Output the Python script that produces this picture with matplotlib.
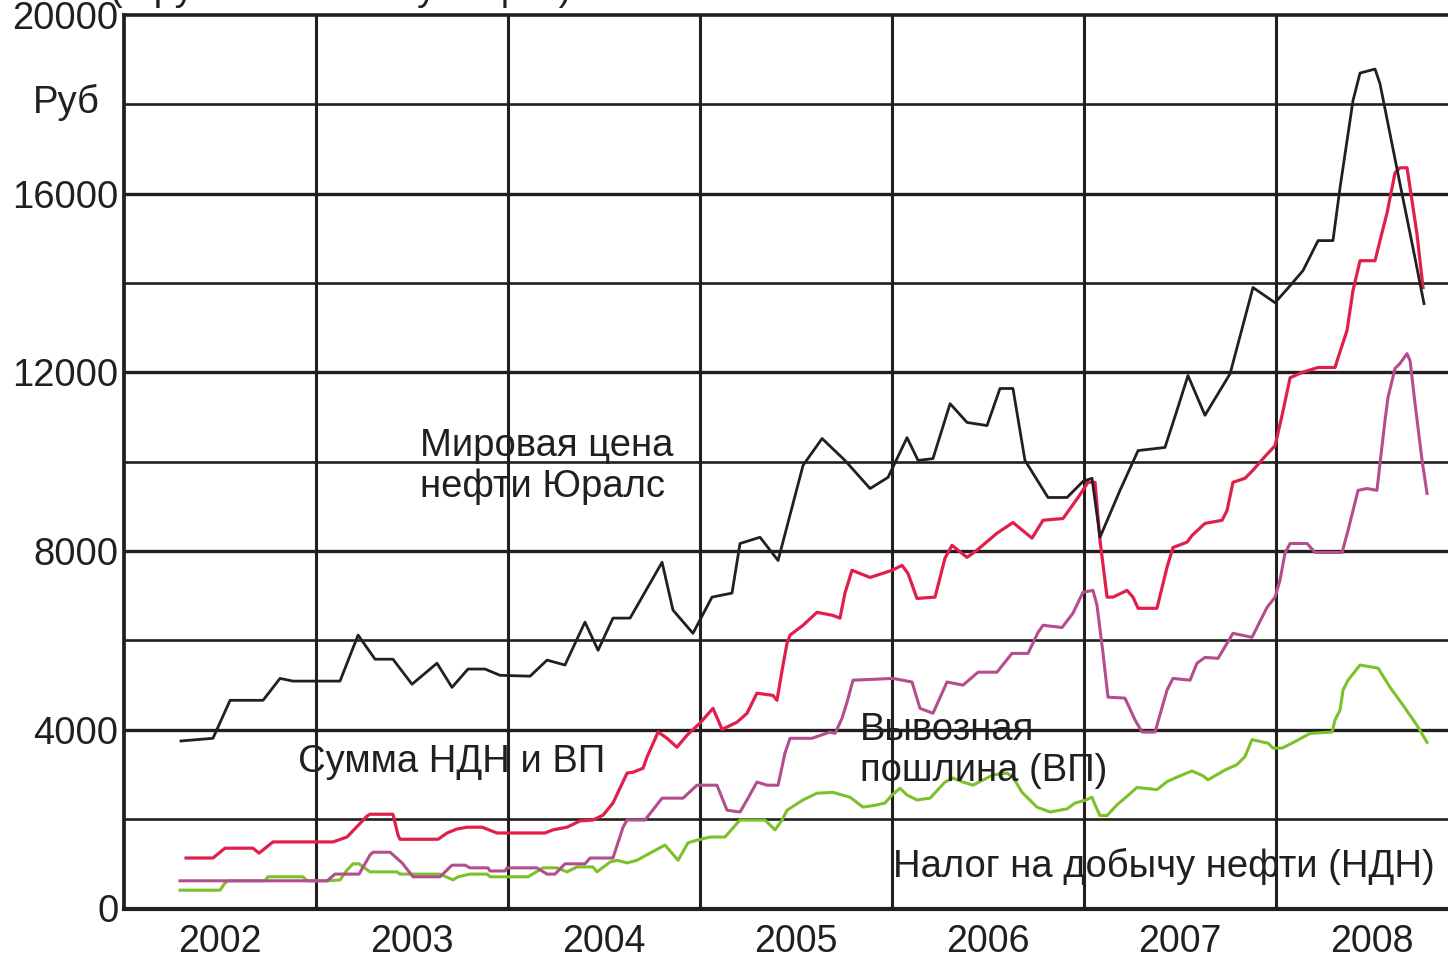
import matplotlib.pyplot as plt

plt.rcParams['font.family'] = ['Liberation Sans', 'DejaVu Sans']

# months counted from Jan 2002, values in rubles per tonne
urals_m = [3.56, 5.56, 6.63, 8.69, 9.75, 10.56, 13.5, 14.63, 15.69, 16.81,
           18.0, 19.56, 20.5, 21.5, 22.56, 23.5, 25.38, 26.44, 27.56, 28.81,
           29.63, 30.56, 31.63, 33.63, 34.31, 35.56, 36.75, 38.0, 38.5, 39.75,
           40.88, 42.44, 43.63, 45.06, 46.63, 47.75, 48.94, 49.63, 50.56, 51.63,
           52.69, 53.94, 54.75, 55.56, 56.31, 57.75, 58.94, 59.94, 60.5, 61.0,
           62.25, 63.38, 65.06, 65.81, 66.5, 67.56, 69.13, 70.56, 71.94, 72.88,
           73.69, 74.63, 75.56, 76.0, 76.81, 77.25, 78.19, 78.5, 79.75, 80.56,
           81.25]
urals_v = [3750, 3810, 4660, 4660, 5150, 5090, 5090, 6120, 5580, 5580,
           5020, 5490, 4950, 5360, 5360, 5220, 5200, 5560, 5450, 6410,
           5780, 6500, 6500, 7750, 6680, 6160, 6970, 7060, 8170, 8310,
           7790, 9920, 10520, 10030, 9400, 9650, 10540, 10030, 10070, 11300,
           10880, 10810, 11640, 11640, 10030, 9200, 9200, 9560, 9630, 8310,
           9360, 10250, 10320, 11150, 11930, 11040, 11970, 13900, 13560, 13940,
           14280, 14950, 14950, 16130, 18080, 18700, 18790, 18460, 16220, 14790,
           13540]

sum_m = [3.88, 5.56, 6.31, 8.06, 8.44, 9.31, 13.06, 13.94, 15.19, 15.38,
         16.81, 17.13, 17.25, 19.63, 20.19, 20.81, 21.44, 22.38, 23.31, 26.31,
         26.81, 27.69, 28.5, 29.31, 29.94, 30.56, 31.44, 31.81, 32.44, 32.69,
         33.38, 33.94, 34.56, 35.19, 36.0, 36.81, 37.38, 38.31, 38.94, 39.56,
         40.56, 40.81, 41.13, 41.44, 41.63, 42.44, 43.31, 44.31, 44.75, 45.06,
         45.5, 46.63, 48.0, 48.63, 49.0, 49.56, 50.69, 51.31, 51.75, 52.69,
         53.31, 54.56, 55.56, 56.75, 57.44, 58.69, 59.63, 60.25, 60.69, 61.0,
         61.44, 61.81, 62.69, 63.06, 63.38, 64.56, 65.19, 65.56, 66.44, 66.75,
         67.56, 68.63, 68.94, 69.31, 70.06, 70.56, 71.19, 71.94, 72.38, 72.88,
         73.63, 74.63, 75.69, 75.88, 76.44, 76.81, 77.25, 78.19, 78.5, 78.94,
         79.25, 79.44, 79.75, 80.19, 80.38, 80.81, 81.19]
sum_v = [1130, 1130, 1350, 1350, 1240, 1490, 1490, 1600, 2070, 2110,
         2110, 1640, 1550, 1550, 1690, 1780, 1820, 1820, 1690, 1690,
         1760, 1820, 1960, 1980, 2090, 2360, 3030, 3050, 3140, 3390,
         3950, 3810, 3610, 3880, 4150, 4480, 4010, 4170, 4370, 4820,
         4770, 4660, 5330, 5940, 6120, 6340, 6630, 6560, 6500, 7060,
         7570, 7410, 7570, 7680, 7500, 6940, 6970, 7840, 8130, 7860,
         8020, 8400, 8640, 8290, 8690, 8730, 9200, 9540, 9540, 8240,
         6970, 6970, 7120, 6970, 6720, 6720, 7640, 8080, 8200, 8350,
         8620, 8690, 8910, 9540, 9630, 9810, 10070, 10360, 11040, 11880,
         12000, 12110, 12110, 12330, 12940, 13830, 14500, 14500, 14950, 15570,
         16130, 16470, 16580, 16580, 16130, 15100, 13900]

duty_m = [3.5, 12.69, 13.19, 14.69, 15.38, 15.56, 16.63, 17.38, 18.06, 19.75,
          20.5, 21.31, 21.63, 22.75, 22.88, 23.81, 23.94, 25.81, 26.44, 26.94,
          27.56, 28.81, 29.13, 30.56, 31.19, 31.44, 32.56, 33.63, 34.94, 35.81,
          37.06, 37.69, 38.5, 38.94, 39.56, 40.19, 40.88, 41.31, 41.63, 43.0,
          44.13, 44.44, 44.88, 45.19, 45.56, 48.06, 49.25, 49.75, 50.56, 51.44,
          52.44, 53.38, 54.56, 55.5, 56.5, 57.13, 57.44, 58.63, 59.31, 59.94,
          60.56, 60.81, 61.19, 61.5, 62.56, 63.19, 63.63, 64.44, 65.19, 65.56,
          66.63, 67.06, 67.56, 68.38, 69.31, 70.5, 71.44, 71.94, 72.25, 72.56,
          72.88, 73.94, 74.44, 76.13, 76.5, 77.13, 77.69, 78.31, 78.5, 78.81,
          79.0, 79.44, 79.75, 80.19, 80.38, 80.69, 81.13, 81.44]
duty_v = [620, 620, 770, 770, 1200, 1260, 1260, 1020, 710, 710,
          970, 970, 910, 910, 840, 840, 910, 910, 770, 770,
          1000, 1000, 1130, 1130, 1820, 1980, 1980, 2470, 2470, 2760,
          2760, 2200, 2160, 2430, 2830, 2760, 2760, 3480, 3810, 3810,
          3950, 3920, 4260, 4620, 5110, 5150, 5070, 4480, 4370, 5070,
          5000, 5290, 5290, 5710, 5710, 6180, 6340, 6290, 6610, 7080,
          7120, 6790, 5710, 4730, 4710, 4220, 3950, 3950, 4890, 5150,
          5110, 5490, 5620, 5600, 6160, 6070, 6740, 6970, 7350, 7950,
          8170, 8170, 7970, 7970, 8460, 9360, 9400, 9360, 9960, 10920,
          11440, 12090, 12200, 12420, 12260, 11300, 10030, 9290]

tax_m = [3.5, 6.0, 6.31, 6.5, 8.81, 9.0, 11.19, 11.44, 12.69, 13.5,
         13.94, 14.31, 14.69, 15.38, 17.06, 17.25, 19.75, 20.56, 20.88, 21.63,
         22.69, 22.88, 25.25, 26.19, 27.06, 27.69, 28.31, 29.31, 29.56, 30.38,
         30.81, 31.44, 32.06, 32.88, 33.81, 34.63, 35.25, 35.81, 36.63, 37.56,
         38.5, 40.06, 40.69, 41.13, 41.44, 42.44, 43.31, 44.31, 45.38, 46.19,
         46.94, 47.56, 48.0, 48.5, 48.94, 49.56, 50.38, 51.31, 51.81, 52.44,
         53.06, 54.31, 55.19, 55.56, 56.13, 57.06, 57.88, 58.94, 59.44, 60.06,
         60.5, 60.69, 61.0, 61.44, 62.06, 62.75, 63.31, 64.56, 65.19, 65.81,
         66.75, 67.44, 67.75, 68.81, 69.56, 70.06, 70.5, 71.5, 71.81, 72.38,
         73.0, 74.13, 75.5, 75.69, 76.0, 76.19, 76.5, 77.25, 78.38, 79.13,
         79.94, 80.81, 81.44]
tax_v = [410, 410, 570, 620, 620, 710, 710, 620, 620, 640,
         860, 1000, 1000, 820, 820, 770, 770, 640, 710, 770,
         770, 710, 710, 910, 910, 820, 930, 930, 820, 1040,
         1080, 1020, 1080, 1240, 1420, 1080, 1470, 1530, 1600, 1600,
         1980, 1980, 1760, 1980, 2200, 2430, 2580, 2600, 2490, 2270,
         2310, 2360, 2540, 2690, 2540, 2430, 2470, 2830, 2920, 2830,
         2760, 2990, 3030, 2940, 2600, 2270, 2160, 2230, 2360, 2420,
         2490, 2320, 2080, 2080, 2320, 2530, 2710, 2660, 2840, 2940,
         3080, 2970, 2880, 3100, 3220, 3400, 3780, 3700, 3590, 3590,
         3700, 3920, 3950, 4220, 4440, 4890, 5110, 5450, 5380, 4950,
         4550, 4100, 3720]

years = [2002, 2003, 2004, 2005, 2006, 2007, 2008]
y_ticks = [0, 4000, 8000, 12000, 16000, 20000]


def to_year(months):
    return [2002 + m / 12 for m in months]


ink = "#231f20"
fig = plt.figure(figsize=(14.48, 9.6), dpi=100)
ax = fig.add_axes([124 / 1448, 1 - 908.5 / 960, 1 - 124 / 1448, 893.5 / 960])
ax.set_xlim(2002, 2002 + 1324 / 192)
ax.set_ylim(0, 20000)

for v in range(2000, 20000, 2000):
    ax.axhline(v, color=ink, lw=2.4 if v % 4000 == 0 else 1.9, zorder=1)
for yr in years[1:]:
    ax.axvline(yr, color=ink, lw=2.2, zorder=1)

ax.plot(to_year(tax_m), tax_v, color="#7cc12a", lw=2.2, zorder=3)
ax.plot(to_year(duty_m), duty_v, color="#b44c8e", lw=2.2, zorder=4)
ax.plot(to_year(sum_m), sum_v, color="#e01f4b", lw=2.3, zorder=5)
ax.plot(to_year(urals_m), urals_v, color=ink, lw=2.0, zorder=6)

for side, w in [("left", 2.7), ("bottom", 3.0), ("top", 2.6)]:
    ax.spines[side].set_linewidth(w)
    ax.spines[side].set_color(ink)
ax.spines["right"].set_visible(False)

ax.set_yticks(y_ticks)
ax.set_yticklabels([str(v) for v in y_ticks])
ax.set_xticks([y + 0.5 for y in years])
ax.set_xticklabels([str(y) for y in years])
ax.tick_params(axis="y", length=0, pad=4, labelsize=27.5, colors=ink)
ax.tick_params(axis="x", length=0, pad=11, labelsize=27, colors=ink)

fs = 27.5
ax.text(2003.54, 10120, "Мировая цена", fontsize=fs, color=ink, va="baseline", zorder=7)
ax.text(2003.54, 9220, "нефти Юралс", fontsize=fs, color=ink, va="baseline", zorder=7)
ax.text(2002.906, 3060, "Сумма НДН и ВП", fontsize=fs, color=ink, va="baseline", zorder=7)
ax.text(2005.833, 3770, "Вывозная", fontsize=fs, color=ink, va="baseline", zorder=7)
ax.text(2005.833, 2860, "пошлина (ВП)", fontsize=fs, color=ink, va="baseline", zorder=7)
ax.text(2006.005, 700, "Налог на добычу нефти (НДН)", fontsize=fs, color=ink,
        va="baseline", zorder=7)

fig.text(33 / 1448, 1 - 113 / 960, "Руб", fontsize=fs, color=ink, va="baseline")
fig.text(110 / 1448, 1.0, "(в рублях за тонну нефти)", fontsize=fs, color=ink,
         va="baseline")

fig.savefig("out.png", dpi=100)
